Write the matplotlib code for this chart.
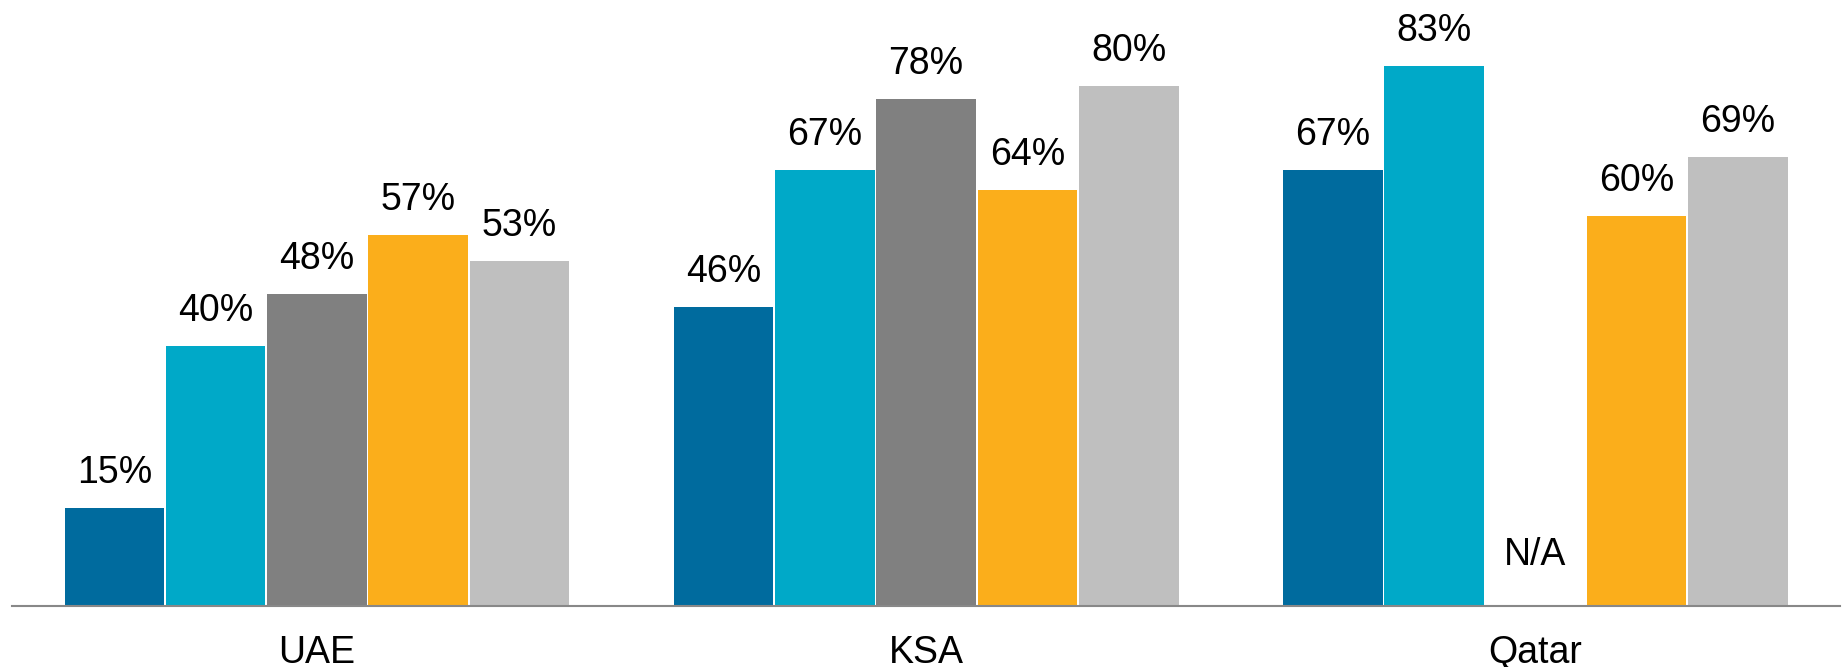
import matplotlib.pyplot as plt
import numpy as np

# Data
countries = ['UAE', 'KSA', 'Qatar']
series_1 = [15, 46, 67]
series_2 = [40, 67, 83]
series_3 = [48, 78, np.nan]   # no value for Qatar
series_4 = [57, 64, 60]
series_5 = [53, 80, 69]
colors = ['#006B9E', '#00A9C8', '#808080', '#FBAE1B', '#BFBFBF']

plt.rcParams['font.family'] = ['Liberation Sans', 'DejaVu Sans']

fig = plt.figure(figsize=(18.47, 6.67), dpi=100)
ax = fig.add_axes([0.0067, 0.0915, 0.9895, 0.9085])

x = np.arange(len(countries))
slot = 0.1663
all_series = [series_1, series_2, series_3, series_4, series_5]

for i, (vals, col) in enumerate(zip(all_series, colors)):
    pos = x + (i - 2) * slot
    ax.bar(pos, vals, width=slot * 0.983, color=col)
    for px, v in zip(pos, vals):
        if np.isnan(v):
            ax.annotate('N/A', xy=(px, 0), xytext=(0, 29.5), textcoords='offset points',
                        ha='center', va='baseline', fontsize=27)
        else:
            ax.annotate(f'{v:.0f}%', xy=(px, v), xytext=(0, 18), textcoords='offset points',
                        ha='center', va='baseline', fontsize=27)

# category names under the axis line
for xi, name in zip(x, countries):
    ax.annotate(name, xy=(xi, 0), xycoords=('data', 'axes fraction'), xytext=(0, -40.8),
                textcoords='offset points', ha='center', va='baseline', fontsize=27)

ax.set_xlim(-0.5, 2.5)
ax.set_ylim(0, 93.15)
ax.set_xticks([])
ax.set_yticks([])
for s in ['top', 'right', 'left']:
    ax.spines[s].set_visible(False)
ax.spines['bottom'].set_color('#888888')
ax.spines['bottom'].set_linewidth(1.5)

fig.savefig('out.png', dpi=100)
